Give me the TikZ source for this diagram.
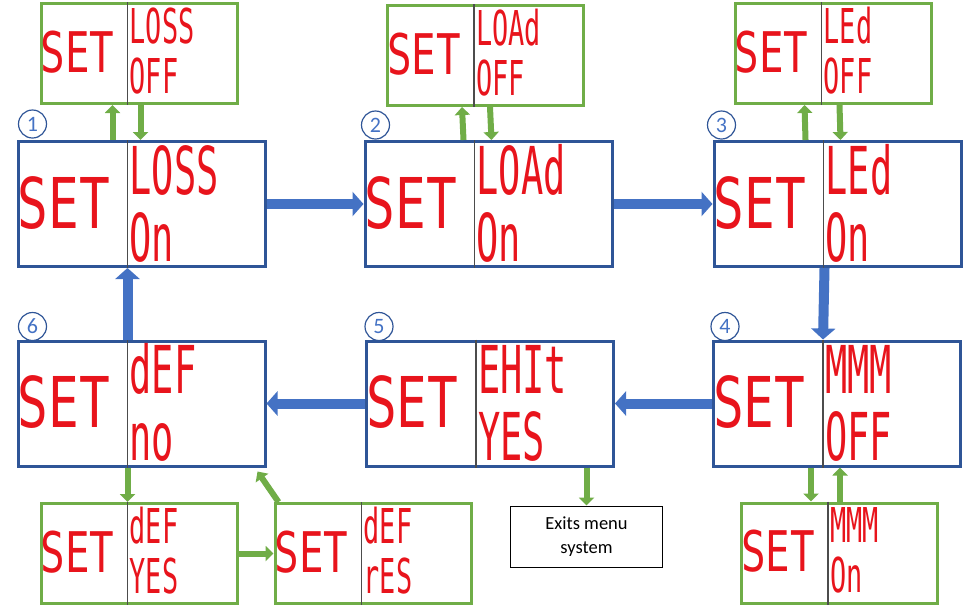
\documentclass[tikz,border=0pt]{standalone}
\usepackage{fontspec}
\usetikzlibrary{calc,arrows.meta}
\definecolor{boxblue}{HTML}{2F5597}
\definecolor{arrblue}{HTML}{4472C4}
\definecolor{boxgreen}{HTML}{70AD47}
\definecolor{segred}{HTML}{E8141C}
\newfontfamily\segfont[FakeStretch=0.56]{DejaVu Sans Mono}
\newfontfamily\segwide[FakeStretch=0.73]{DejaVu Sans Mono}
\newfontfamily\calfont{Carlito}
\tikzstyle{mainbox}=[rectangle, minimum width=247pt, minimum height=125pt, inner sep=0pt, draw=boxblue, line width=3pt, fill=white]
\tikzstyle{subbox}=[rectangle, minimum width=196pt, minimum height=100pt, inner sep=0pt, draw=boxgreen, line width=3pt, fill=white]
\tikzstyle{divider}=[draw=black!70, line width=1.5pt]
\tikzstyle{segbig}=[inner sep=0pt, text depth=0pt, anchor=base west, text=segred, font=\segfont\fontsize{66}{66}\selectfont]
\tikzstyle{setbig}=[inner sep=0pt, text depth=0pt, anchor=base west, text=segred, font=\segwide\fontsize{70}{70}\selectfont]
\tikzstyle{segsmall}=[inner sep=0pt, text depth=0pt, anchor=base west, text=segred, font=\segfont\fontsize{48}{48}\selectfont]
\tikzstyle{setsmall}=[inner sep=0pt, text depth=0pt, anchor=base west, text=segred, font=\segwide\fontsize{56}{56}\selectfont]
\tikzstyle{badge}=[circle, draw=boxblue, line width=1.2pt, minimum size=28pt, inner sep=0pt, text=arrblue, font=\calfont\fontsize{22}{22}\selectfont]
\tikzstyle{exitbox}=[rectangle, draw=black, line width=1pt, minimum width=152pt, minimum height=61pt, align=center, font=\calfont\fontsize{18.5}{24}\selectfont]
\tikzstyle{barr}=[arrblue, line width=10pt, -{Triangle[width=24pt, length=11pt]}]
\tikzstyle{garr}=[boxgreen, line width=6pt, -{Triangle[width=15pt, length=8pt]}]
\newcommand{\mainpanel}[4]{%
  \node [mainbox] (#1) at (#2) {};
  \draw [divider] ($(#1.north west)+(111,0)$) -- ($(#1.south west)+(111,0)$);
  \node [setbig] (#1set) at ($(#1.north west)+(1,88)$) {SET};
  \node [segbig] (#1top) at ($(#1.north west)+(113,54)$) {#3};
  \node [segbig] (#1bot) at ($(#1.north west)+(113,121)$) {#4};
}
\newcommand{\subpanel}[4]{%
  \node [subbox] (#1) at (#2) {};
  \draw [divider] ($(#1.north west)+(88,0)$) -- ($(#1.south west)+(88,0)$);
  \node [setsmall] (#1set) at ($(#1.north west)+(1,70)$) {SET};
  \node [segsmall] (#1top) at ($(#1.north west)+(90,41)$) {#3};
  \node [segsmall] (#1bot) at ($(#1.north west)+(90,91)$) {#4};
}

\begin{document}
\begin{tikzpicture}[x=1pt, y=-1pt]

\useasboundingbox (0,0) rectangle (968,606);

\mainpanel{m1}{141.5,204}{LOSS}{On}
\mainpanel{m2}{488.5,204}{LOAd}{On}
\mainpanel{m3}{837.5,204}{LEd}{On}
\mainpanel{m4}{837,403.5}{MMM}{OFF}
\mainpanel{m5}{490,403.5}{EHIt}{YES}
\mainpanel{m6}{141.5,403.5}{dEF}{no}

\subpanel{s1}{139,53.5}{LOSS}{OFF}
\subpanel{s2}{485.5,55.5}{LOAd}{OFF}
\subpanel{s3}{833,53.5}{LEd}{OFF}
\subpanel{s4}{839.5,553}{MMM}{On}
\subpanel{s6}{139,553.5}{dEF}{YES}
\subpanel{s7}{373,553.5}{dEF}{rES}

\node [exitbox] (ex) at (586.5,536.5) {Exits menu\\system};

\node [badge] (n1) at ($(m1.north west)+(16,-16)$) {1};
\node [badge] (n2) at ($(m2.north west)+(12,-15)$) {2};
\node [badge] (n3) at ($(m3.north west)+(9,-15)$) {3};
\node [badge] (n4) at ($(m4.north west)+(13,-13)$) {4};
\node [badge] (n5) at ($(m5.north west)+(14,-13)$) {5};
\node [badge] (n6) at ($(m6.north west)+(16,-13)$) {6};

% main loop
\draw [barr] (m1) -- (m2);
\draw [barr] (m2) -- (m3);
\draw [barr] ($(m3.south west)+(112,0)$) -- ($(m4.north west)+(111,0)$);
\draw [barr] (m4) -- (m5);
\draw [barr] (m5) -- (m6);
\draw [barr] ($(m6.north west)+(111,0)$) -- ($(m1.south west)+(111,0)$);

% sub menus
\draw [garr] ($(m1.north west)+(96,0)$) -- ($(s1.south west)+(73,0)$);
\draw [garr] ($(s1.south west)+(101,0)$) -- ($(m1.north west)+(124,0)$);
\draw [garr] ($(m2.north west)+(100,0)$) -- ($(s2.south west)+(76,0)$);
\draw [garr] ($(s2.south west)+(104,0)$) -- ($(m2.north west)+(128,0)$);
\draw [garr] ($(m3.north west)+(93,0)$) -- ($(s3.south west)+(71,0)$);
\draw [garr] ($(s3.south west)+(106,0)$) -- ($(m3.north west)+(128,0)$);
\draw [garr] ($(m4.south west)+(99,0)$) -- ($(s4.north west)+(71,0)$);
\draw [garr] ($(s4.north west)+(100,0)$) -- ($(m4.south west)+(128,0)$);
\draw [garr] (ex.north |- m5.south) -- (ex.north);
\draw [garr] ($(m6.south west)+(111,0)$) -- ($(s6.north west)+(88,0)$);
\draw [garr] (s6) -- (s7);
\draw [garr] ($(s7.north west)+(5,0)$) -- ($(m6.south east)+(-9,4)$);

\end{tikzpicture}
\end{document}
